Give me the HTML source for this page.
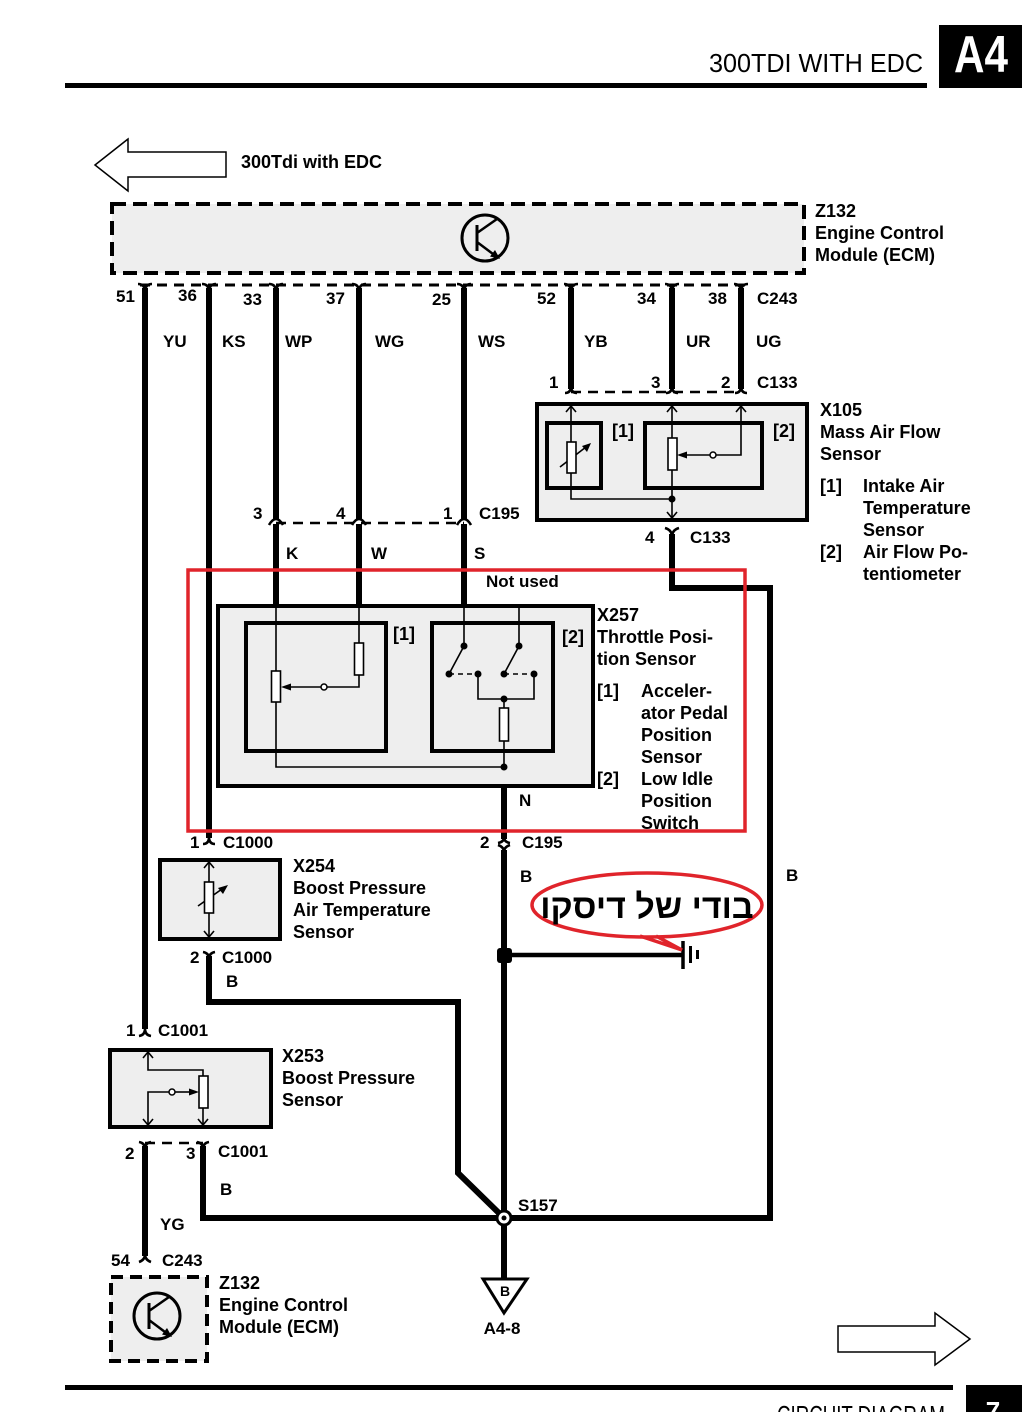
<!DOCTYPE html>
<html><head><meta charset="utf-8">
<style>
html,body{margin:0;padding:0;background:#fff;}
svg{display:block}
text{font-family:"Liberation Sans",Arial,"DejaVu Sans",sans-serif;font-weight:bold;font-size:18px;fill:#000}
.s{font-size:17px}
.w{fill:none;stroke:#000;stroke-width:6;stroke-linejoin:miter}
.t{fill:none;stroke:#000;stroke-width:1.6}
.c{fill:none;stroke:#000;stroke-width:2.6}
</style></head><body>
<svg width="1034" height="1412" viewBox="0 0 1034 1412" xmlns="http://www.w3.org/2000/svg">
<!-- header -->
<text x="923" y="72" text-anchor="end" style="font-weight:normal;font-size:26px" textLength="214" lengthAdjust="spacingAndGlyphs">300TDI WITH EDC</text>
<rect x="939" y="25" width="83" height="63" fill="#000"/>
<text x="981" y="72" text-anchor="middle" style="font-size:52px;fill:#fff" textLength="54" lengthAdjust="spacingAndGlyphs">A4</text>
<rect x="65" y="83" width="862" height="5" fill="#000"/>

<!-- left arrow -->
<polygon points="95,165 128,139 128,152 226,152 226,177 128,177 128,191" fill="#fff" stroke="#000" stroke-width="1.5"/>
<text x="241" y="168">300Tdi with EDC</text>

<!-- ECM top box -->
<rect x="112" y="204" width="692" height="69" fill="#eeeeee" stroke="#000" stroke-width="4" stroke-dasharray="14 7"/>
<circle cx="485" cy="238" r="23" fill="none" stroke="#000" stroke-width="3"/>
<line x1="477" y1="225" x2="477" y2="251" stroke="#000" stroke-width="3"/>
<line x1="477" y1="233" x2="497" y2="219" stroke="#000" stroke-width="2.5"/>
<line x1="477" y1="242" x2="493" y2="254" stroke="#000" stroke-width="2.5"/>
<polygon points="500,259 490,256.5 495,250" fill="#000"/>
<text x="815" y="217">Z132</text>
<text x="815" y="239">Engine Control</text>
<text x="815" y="261">Module (ECM)</text>

<!-- C243 top connector -->
<line x1="140" y1="285" x2="746" y2="285" stroke="#000" stroke-width="3" stroke-dasharray="10 7"/>
<g class="c">
<path d="M138 284 Q145 284 145 292 M152 284 Q145 284 145 292"/>
<path d="M202 284 Q209 284 209 292 M216 284 Q209 284 209 292"/>
<path d="M269 284 Q276 284 276 292 M283 284 Q276 284 276 292"/>
<path d="M352 284 Q359 284 359 292 M366 284 Q359 284 359 292"/>
<path d="M457 284 Q464 284 464 292 M471 284 Q464 284 464 292"/>
<path d="M564 284 Q571 284 571 292 M578 284 Q571 284 571 292"/>
<path d="M665 284 Q672 284 672 292 M679 284 Q672 284 672 292"/>
<path d="M734 284 Q741 284 741 292 M748 284 Q741 284 741 292"/>
</g>
<text class="s" x="116" y="302">51</text>
<text class="s" x="178" y="301">36</text>
<text class="s" x="243" y="305">33</text>
<text class="s" x="326" y="304">37</text>
<text class="s" x="432" y="305">25</text>
<text class="s" x="537" y="304">52</text>
<text class="s" x="637" y="304">34</text>
<text class="s" x="708" y="304">38</text>
<text class="s" x="757" y="304">C243</text>
<text class="s" x="163" y="347">YU</text>
<text class="s" x="222" y="347">KS</text>
<text class="s" x="285" y="347">WP</text>
<text class="s" x="375" y="347">WG</text>
<text class="s" x="478" y="347">WS</text>
<text class="s" x="584" y="347">YB</text>
<text class="s" x="686" y="347">UR</text>
<text class="s" x="756" y="347">UG</text>

<!-- main vertical wires -->
<line class="w" x1="145" y1="288" x2="145" y2="1029"/>
<line class="w" x1="209" y1="288" x2="209" y2="838"/>
<line class="w" x1="276" y1="288" x2="276" y2="519"/>
<line class="w" x1="359" y1="288" x2="359" y2="519"/>
<line class="w" x1="464" y1="288" x2="464" y2="519"/>
<line class="w" x1="571" y1="288" x2="571" y2="389"/>
<line class="w" x1="672" y1="288" x2="672" y2="389"/>
<line class="w" x1="741" y1="288" x2="741" y2="389"/>

<!-- C133 upper -->
<line x1="571" y1="392" x2="741" y2="392" stroke="#000" stroke-width="2.6" stroke-dasharray="10 7"/>
<g class="c">
<path d="M565 393 Q571 393 571 386 M577 393 Q571 393 571 386"/>
<path d="M666 393 Q672 393 672 386 M678 393 Q672 393 672 386"/>
<path d="M735 393 Q741 393 741 386 M747 393 Q741 393 741 386"/>
</g>
<text class="s" x="549" y="388">1</text>
<text class="s" x="651" y="388">3</text>
<text class="s" x="721" y="388">2</text>
<text class="s" x="757" y="388">C133</text>

<!-- X105 -->
<rect x="537" y="404" width="270" height="116" fill="#eeeeee" stroke="#000" stroke-width="4"/>
<rect x="547" y="423" width="54" height="65" fill="none" stroke="#000" stroke-width="4"/>
<rect x="645" y="423" width="117" height="65" fill="none" stroke="#000" stroke-width="4"/>
<g class="t">
<path d="M571 406 V442 M571 473 V499 H672"/>
<path d="M566 412 L571 406 L576 412"/>
<path d="M672 406 V438 M672 470 V518"/>
<path d="M667 412 L672 406 L677 412"/>
<path d="M667 512 L672 518 L677 512"/>
<path d="M741 406 V455 H716"/>
<path d="M736 412 L741 406 L746 412"/>
<path d="M710 455 H686"/>
<path d="M560 467 L586 447"/>
</g>
<rect x="567" y="442" width="9" height="31" fill="#fff" stroke="#000" stroke-width="1.6"/>
<rect x="668" y="438" width="9" height="32" fill="#fff" stroke="#000" stroke-width="1.6"/>
<polygon points="591,443 582,446 587,452" fill="#000"/>
<polygon points="677,455 687,451.5 687,458.5" fill="#000"/>
<circle cx="713" cy="455" r="3" fill="#fff" stroke="#000" stroke-width="1.5"/>
<circle cx="672" cy="499" r="3.5" fill="#000"/>
<text x="612" y="437">[1]</text>
<text x="773" y="437">[2]</text>
<text x="820" y="416">X105</text>
<text x="820" y="438">Mass Air Flow</text>
<text x="820" y="460">Sensor</text>
<text x="820" y="492">[1]</text>
<text x="863" y="492">Intake Air</text>
<text x="863" y="514">Temperature</text>
<text x="863" y="536">Sensor</text>
<text x="820" y="558">[2]</text>
<text x="863" y="558">Air Flow Po-</text>
<text x="863" y="580">tentiometer</text>

<!-- C133 lower and B wire -->
<path class="c" d="M665 528 Q672 530 672 537 M679 528 Q672 530 672 537"/>
<text class="s" x="645" y="543">4</text>
<text class="s" x="690" y="543">C133</text>
<polyline class="w" points="672,534 672,588 770,588 770,1218 504,1218"/>

<!-- C195 upper -->
<line x1="276" y1="523" x2="464" y2="523" stroke="#000" stroke-width="2.5" stroke-dasharray="10 7"/>
<g class="c">
<path d="M269 525 Q276 513 283 525"/>
<path d="M352 525 Q359 513 366 525"/>
<path d="M457 525 Q464 513 471 525"/>
</g>
<line class="w" x1="276" y1="524" x2="276" y2="606"/>
<line class="w" x1="359" y1="524" x2="359" y2="606"/>
<line class="w" x1="464" y1="524" x2="464" y2="606"/>
<text class="s" x="253" y="519">3</text>
<text class="s" x="336" y="519">4</text>
<text class="s" x="443" y="519">1</text>
<text class="s" x="479" y="519">C195</text>
<text class="s" x="286" y="559">K</text>
<text class="s" x="371" y="559">W</text>
<text class="s" x="474" y="559">S</text>
<text class="s" x="486" y="587">Not used</text>

<!-- X257 -->
<rect x="218" y="606" width="375" height="180" fill="#eeeeee" stroke="#000" stroke-width="4"/>
<rect x="246" y="623" width="140" height="128" fill="none" stroke="#000" stroke-width="4"/>
<rect x="432" y="623" width="121" height="128" fill="none" stroke="#000" stroke-width="4"/>
<g class="t">
<path d="M276 608 V671 M276 702 V767 H504"/>
<path d="M359 608 V643 M359 675 V687 H327"/>
<path d="M321 687 H290"/>
<path d="M464 608 V646 L449 674"/>
<path d="M519 608 V646 L504 674"/>
<path d="M449 674 H478" stroke-dasharray="5 4"/>
<path d="M504 674 H534" stroke-dasharray="5 4"/>
<path d="M478 674 V699 H534 V674"/>
<path d="M504 699 V708 M504 741 V767"/>
</g>
<rect x="271.5" y="671" width="9" height="31" fill="#fff" stroke="#000" stroke-width="1.6"/>
<rect x="354.5" y="643" width="9" height="32" fill="#fff" stroke="#000" stroke-width="1.6"/>
<rect x="499.5" y="708" width="9" height="33" fill="#fff" stroke="#000" stroke-width="1.6"/>
<polygon points="281,687 291,683.5 291,690.5" fill="#000"/>
<circle cx="324" cy="687" r="3" fill="#fff" stroke="#000" stroke-width="1.5"/>
<g fill="#000">
<circle cx="464" cy="646" r="3.5"/><circle cx="449" cy="674" r="3.5"/><circle cx="478" cy="674" r="3.5"/>
<circle cx="519" cy="646" r="3.5"/><circle cx="504" cy="674" r="3.5"/><circle cx="534" cy="674" r="3.5"/>
<circle cx="504" cy="699" r="3.5"/><circle cx="504" cy="767" r="3.5"/>
</g>
<text x="393" y="640">[1]</text>
<text x="562" y="643">[2]</text>
<text x="597" y="621">X257</text>
<text x="597" y="643">Throttle Posi-</text>
<text x="597" y="665">tion Sensor</text>
<text x="597" y="697">[1]</text>
<text x="641" y="697">Acceler-</text>
<text x="641" y="719">ator Pedal</text>
<text x="641" y="741">Position</text>
<text x="641" y="763">Sensor</text>
<text x="597" y="785">[2]</text>
<text x="641" y="785">Low Idle</text>
<text x="641" y="807">Position</text>
<text x="641" y="829">Switch</text>

<!-- N wire -->
<line class="w" x1="504" y1="786" x2="504" y2="839"/>
<text class="s" x="519" y="806">N</text>
<g class="c">
<path d="M498 843 Q504 842 504 837 M510 843 Q504 842 504 837"/>
<path d="M498 845 Q504 847 504 852 M510 845 Q504 847 504 852"/>
</g>
<line class="w" x1="504" y1="850" x2="504" y2="1280"/>
<text class="s" x="480" y="848">2</text>
<text class="s" x="522" y="848">C195</text>
<text class="s" x="520" y="882">B</text>

<!-- red box -->
<rect x="188" y="570" width="557" height="261" fill="none" stroke="#e0242b" stroke-width="3.5"/>

<!-- X254 -->
<path class="c" d="M203 844 Q209 844 209 837 M215 844 Q209 844 209 837"/>
<text class="s" x="190" y="848">1</text>
<text class="s" x="223" y="848">C1000</text>
<rect x="160" y="860" width="120" height="79" fill="#eeeeee" stroke="#000" stroke-width="4"/>
<g class="t">
<path d="M209 862 V882 M209 913 V937"/>
<path d="M204 868 L209 862 L214 868"/>
<path d="M204 931 L209 937 L214 931"/>
<path d="M198 906 L222 889"/>
</g>
<rect x="204.5" y="882" width="9" height="31" fill="#fff" stroke="#000" stroke-width="1.6"/>
<polygon points="228,885 218,888 223,894" fill="#000"/>
<text x="293" y="872">X254</text>
<text x="293" y="894">Boost Pressure</text>
<text x="293" y="916">Air Temperature</text>
<text x="293" y="938">Sensor</text>
<path class="c" d="M203 952 Q209 953 209 959 M215 952 Q209 953 209 959"/>
<text class="s" x="190" y="963">2</text>
<text class="s" x="222" y="963">C1000</text>
<text class="s" x="226" y="987">B</text>
<polyline class="w" points="209,956 209,1002 458,1002 458,1173 504,1218"/>

<!-- ground -->
<rect x="497" y="948" width="15" height="15" rx="3" fill="#000"/>
<line x1="504" y1="955" x2="683" y2="955" stroke="#000" stroke-width="4.5"/>
<line x1="683" y1="941" x2="683" y2="969" stroke="#000" stroke-width="3.5"/>
<line x1="690.5" y1="946" x2="690.5" y2="963" stroke="#000" stroke-width="3"/>
<line x1="697.5" y1="950" x2="697.5" y2="959" stroke="#000" stroke-width="3"/>
<ellipse cx="647" cy="905" rx="115" ry="32" fill="none" stroke="#e0242b" stroke-width="3.5"/>
<polyline points="640,936 682,950 656,936" fill="none" stroke="#e0242b" stroke-width="3.5"/>
<text x="647" y="918" text-anchor="middle" direction="rtl" style="font-size:34px">בודי של דיסקו</text>
<text class="s" x="786" y="881">B</text>

<!-- X253 -->
<path class="c" d="M139 1036 Q145 1035 145 1029 M151 1036 Q145 1035 145 1029"/>
<text class="s" x="126" y="1036">1</text>
<text class="s" x="158" y="1036">C1001</text>
<rect x="110" y="1050" width="161" height="77" fill="#eeeeee" stroke="#000" stroke-width="4"/>
<g class="t">
<path d="M148 1052 V1070 H203 V1076 M203 1108 V1125"/>
<path d="M143 1058 L148 1052 L153 1058"/>
<path d="M198 1119 L203 1125 L208 1119"/>
<path d="M148 1125 V1092 H169"/>
<path d="M143 1119 L148 1125 L153 1119"/>
<path d="M175 1092 H190"/>
</g>
<rect x="199" y="1076" width="9" height="32" fill="#fff" stroke="#000" stroke-width="1.6"/>
<polygon points="199,1092 189,1088.5 189,1095.5" fill="#000"/>
<circle cx="172" cy="1092" r="3" fill="#fff" stroke="#000" stroke-width="1.5"/>
<text x="282" y="1062">X253</text>
<text x="282" y="1084">Boost Pressure</text>
<text x="282" y="1106">Sensor</text>
<line x1="145" y1="1143" x2="203" y2="1143" stroke="#000" stroke-width="2.5" stroke-dasharray="10 7"/>
<g class="c">
<path d="M139 1142 Q145 1143 145 1149 M151 1142 Q145 1143 145 1149"/>
<path d="M197 1142 Q203 1143 203 1149 M209 1142 Q203 1143 203 1149"/>
</g>
<text class="s" x="125" y="1159">2</text>
<text class="s" x="186" y="1159">3</text>
<text class="s" x="218" y="1157">C1001</text>
<line class="w" x1="145" y1="1146" x2="145" y2="1256"/>
<polyline class="w" points="203,1146 203,1218 504,1218"/>
<text class="s" x="220" y="1195">B</text>
<text class="s" x="160" y="1230">YG</text>

<!-- bottom ECM -->
<path class="c" d="M139 1262 Q145 1260 145 1254 M151 1262 Q145 1260 145 1254"/>
<text class="s" x="111" y="1266">54</text>
<text class="s" x="162" y="1266">C243</text>
<rect x="111" y="1277" width="96" height="84" fill="#eeeeee" stroke="#000" stroke-width="4" stroke-dasharray="12 7"/>
<circle cx="157" cy="1316" r="23" fill="none" stroke="#000" stroke-width="3"/>
<line x1="149" y1="1303" x2="149" y2="1329" stroke="#000" stroke-width="3"/>
<line x1="149" y1="1311" x2="169" y2="1297" stroke="#000" stroke-width="2.5"/>
<line x1="149" y1="1320" x2="165" y2="1332" stroke="#000" stroke-width="2.5"/>
<polygon points="172,1337 162,1334.5 167,1328" fill="#000"/>
<text x="219" y="1289">Z132</text>
<text x="219" y="1311">Engine Control</text>
<text x="219" y="1333">Module (ECM)</text>

<!-- S157 and ground ref -->
<circle cx="504" cy="1218" r="8.5" fill="#000"/>
<circle cx="504" cy="1218" r="5.5" fill="#fff"/>
<circle cx="504" cy="1218" r="2.5" fill="#000"/>
<text class="s" x="518" y="1211">S157</text>
<polygon points="483,1279 527,1279 504,1313" fill="#fff" stroke="#000" stroke-width="3"/>
<text x="505" y="1296" text-anchor="middle" style="font-size:14px">B</text>
<text class="s" x="502" y="1334" text-anchor="middle">A4-8</text>

<!-- right arrow -->
<polygon points="838,1326 935,1326 935,1313 970,1339 935,1365 935,1352 838,1352" fill="#fff" stroke="#000" stroke-width="1.5"/>

<!-- footer -->
<rect x="65" y="1385" width="888" height="5" fill="#000"/>
<rect x="966" y="1385" width="56" height="27" fill="#000"/>
<text x="993" y="1420" text-anchor="middle" style="font-size:26px;fill:#fff">7</text>
<text x="777" y="1424" style="font-weight:normal;font-size:26px" textLength="168" lengthAdjust="spacingAndGlyphs">CIRCUIT DIAGRAM</text>
</svg>
</body></html>
